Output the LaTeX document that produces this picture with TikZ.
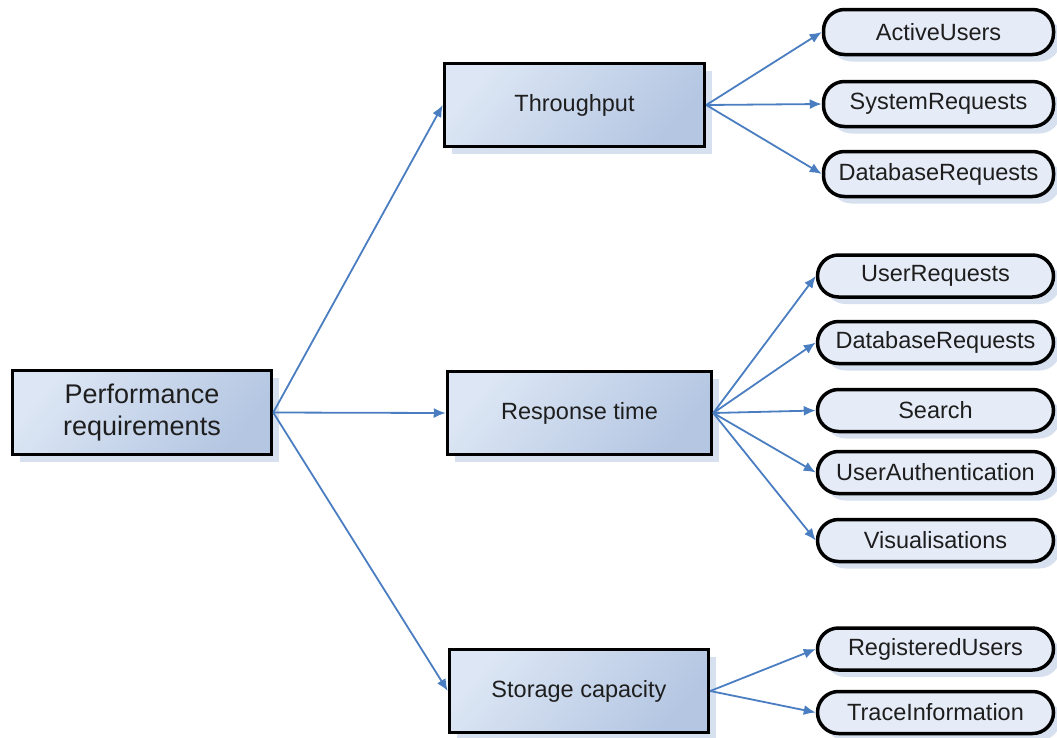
\documentclass[tikz,border=0pt]{standalone}
\usepackage{fontspec}
\setmainfont{Liberation Sans}
\usetikzlibrary{shadows,arrows.meta}
\definecolor{linkblue}{RGB}{74,126,193}
\definecolor{shadowblue}{RGB}{214,224,239}
\definecolor{boxlight}{RGB}{220,230,244}
\definecolor{boxdark}{RGB}{180,198,226}
\definecolor{leaffill}{RGB}{230,236,247}
\definecolor{ink}{RGB}{30,30,30}
\begin{document}
\begin{tikzpicture}[x=1pt,y=-1pt,
  boxshadow/.style={drop shadow={shadow xshift=7pt,shadow yshift=-7pt,fill=shadowblue,opacity=1}},
  topicbox/.style={draw=black,line width=3.5pt,top color=boxlight,bottom color=boxdark,
    shading angle=50,boxshadow,inner sep=0pt,text=ink,
    font=\fontsize{23.5}{28}\selectfont,align=center},
  leafbox/.style={draw=black,line width=3.5pt,fill=leaffill,rounded corners=21pt,
    boxshadow,inner sep=0pt,text=ink,font=\fontsize{23.5}{28}\selectfont},
  leafA/.style={leafbox,minimum width=230pt,minimum height=45pt},
  leafB/.style={leafbox,minimum width=236pt,minimum height=42pt},
  link/.style={draw=linkblue,line width=1.8pt,-{Latex[length=12pt,width=10pt]}}]
\useasboundingbox (0,0) rectangle (1057,737);

% root and the three topic boxes
\node[topicbox,minimum width=259pt,minimum height=84pt,font=\fontsize{27}{32}\selectfont]
  (root) at (142,412.5) {Performance\\requirements};
\node[topicbox,minimum width=260pt,minimum height=83pt] (thr) at (574.5,105) {Throughput};
\node[topicbox,minimum width=264pt,minimum height=83pt] (resp) at (579.5,413) {Response time};
\node[topicbox,minimum width=259pt,minimum height=83pt] (stor) at (579,691) {Storage capacity};

% throughput leaves
\node[leafA] (t1) at (938.5,32) {ActiveUsers};
\node[leafA] (t2) at (938.5,104) {SystemRequests};
\node[leafA] (t3) at (938.5,174) {DatabaseRequests};

% response time leaves
\node[leafB] (r1) at (935.5,276) {UserRequests};
\node[leafB] (r2) at (935.5,342.5) {DatabaseRequests};
\node[leafB] (r3) at (935.5,410.5) {Search};
\node[leafB] (r4) at (935.5,472.5) {UserAuthentication};
\node[leafB] (r5) at (935.5,540.5) {Visualisations};

% storage capacity leaves
\node[leafB] (s1) at (935.5,649) {RegisteredUsers};
\node[leafB] (s2) at (935.5,712.5) {TraceInformation};

% connectors
\foreach \t in {thr,resp,stor} \draw[link] (root.east) -- (\t.west);
\foreach \t in {t1,t2,t3} \draw[link] (thr.east) -- (\t.west);
\foreach \t in {r1,r2,r3,r4,r5} \draw[link] (resp.east) -- (\t.west);
\foreach \t in {s1,s2} \draw[link] (stor.east) -- (\t.west);
\end{tikzpicture}
\end{document}
